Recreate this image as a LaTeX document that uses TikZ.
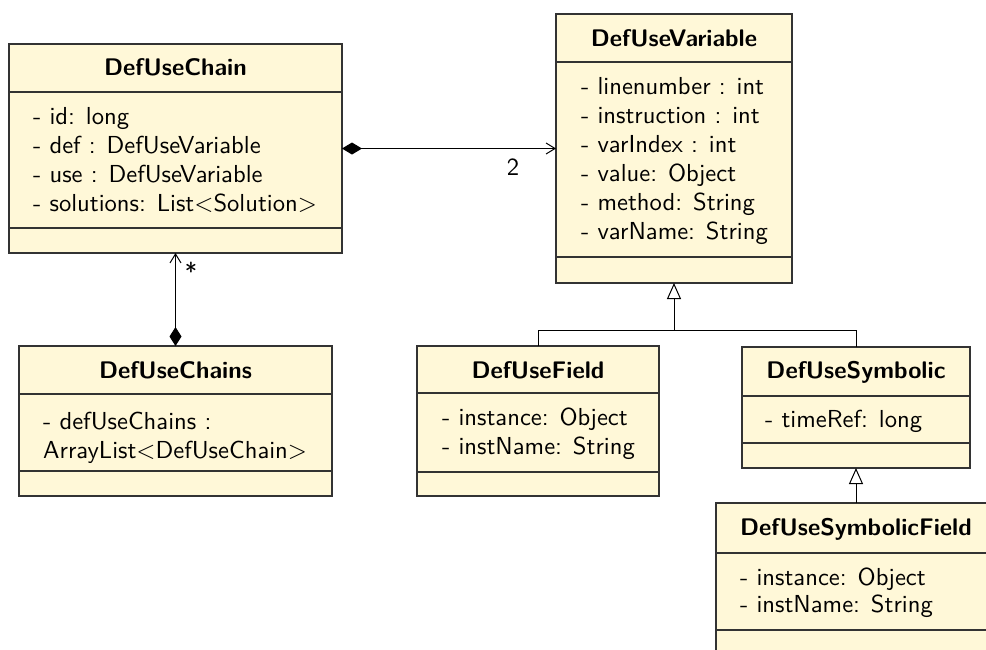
\documentclass[tikz,border=0pt]{standalone}
\usepackage{fontspec}
\newfontfamily\umlfont{lmsans10-regular.otf}[BoldFont=lmsans10-bold.otf]
\usetikzlibrary{arrows.meta,fit}
\definecolor{classfill}{HTML}{FFF8D8}
\definecolor{edge}{HTML}{333333}
\tikzset{
  classbox/.style={draw=edge, fill=classfill, line width=1.2pt, inner sep=0pt, outer sep=0pt},
  divider/.style={draw=edge, line width=1.1pt},
  ctitle/.style={font=\umlfont\bfseries\fontsize{24}{29}\selectfont, inner sep=0pt},
  attr/.style={font=\umlfont\fontsize{24.6}{29}\selectfont, inner sep=0pt, anchor=base west},
  conn/.style={draw=black, line width=1pt},
  mult/.style={font=\umlfont\fontsize{24.6}{29}\selectfont, inner sep=0pt},
}
\begin{document}
\begin{tikzpicture}[x=1pt,y=-1pt]
\useasboundingbox (0,0) rectangle (986,649);
\clip (0,0) rectangle (986,649);
% DefUseChain
\node[classbox, fit={(9,44)(342,253)}] (chain) {};
\draw[divider] (9,92) -- (342,92);
\draw[divider] (9,228) -- (342,228);
\node[ctitle] (chaint) at (175.5,67) {DefUseChain};
\node[attr] (ca1) at (33,124) {- id: long};
\node[attr] (ca2) at (33,153) {- def : DefUseVariable};
\node[attr] (ca3) at (33,182) {- use : DefUseVariable};
\node[attr] (ca4) at (33,211) {- solutions: List<Solution>};
% DefUseVariable
\node[classbox, fit={(556,14)(792,283)}] (var) {};
\draw[divider] (556,62) -- (792,62);
\draw[divider] (556,257) -- (792,257);
\node[ctitle] (vart) at (674,38) {DefUseVariable};
\node[attr] (va1) at (581,94) {- linenumber : int};
\node[attr] (va2) at (581,123) {- instruction : int};
\node[attr] (va3) at (581,152) {- varIndex : int};
\node[attr] (va4) at (581,181) {- value: Object};
\node[attr] (va5) at (581,210) {- method: String};
\node[attr] (va6) at (581,239) {- varName: String};
% DefUseChains
\node[classbox, fit={(19,346)(332,496)}] (chains) {};
\draw[divider] (19,394) -- (332,394);
\draw[divider] (19,471) -- (332,471);
\node[ctitle] (chainst) at (175.5,370) {DefUseChains};
\node[attr] (cs1) at (43,429) {- defUseChains :};
\node[attr] (cs2) at (43,458) {ArrayList<DefUseChain>};
% DefUseField
\node[classbox, fit={(417,346)(659,496)}] (field) {};
\draw[divider] (417,393) -- (659,393);
\draw[divider] (417,472) -- (659,472);
\node[ctitle] (fieldt) at (538,370) {DefUseField};
\node[attr] (fa1) at (442,425) {- instance: Object};
\node[attr] (fa2) at (442,454) {- instName: String};
% DefUseSymbolic
\node[classbox, fit={(742,347)(970,468)}] (sym) {};
\draw[divider] (742,396) -- (970,396);
\draw[divider] (742,443) -- (970,443);
\node[ctitle] (symt) at (856,372) {DefUseSymbolic};
\node[attr] (sa1) at (765,427) {- timeRef: long};
% DefUseSymbolicField
\node[classbox, fit={(716,503)(996,680)}] (symf) {};
\draw[divider] (716,553) -- (996,553);
\draw[divider] (716,630) -- (996,630);
\node[ctitle] (symft) at (856,529) {DefUseSymbolicField};
\node[attr] (sfa1) at (740,585) {- instance: Object};
\node[attr] (sfa2) at (740,612) {- instName: String};
% connectors
\draw[conn, {Diamond[length=20pt,width=12pt,fill=black]}-{Straight Barb[length=9pt,width=11pt]}] (chain.east) -- (var.west);
\node[mult] (m2) at (513,167) {2};
\draw[conn, {Straight Barb[length=9pt,width=11pt]}-{Diamond[length=19pt,width=12pt,fill=black]}] (chain.south) -- (chains.north);
\node[mult] (mstar) at (191,271) {*};
\coordinate (junc) at (674,330);
\draw[conn] (field.north) |- (junc);
\draw[conn] (sym.north) |- (junc);
\draw[conn, -{Triangle[open,length=16pt,width=14pt,fill=white]}] (junc) -- (var.south);
\draw[conn, -{Triangle[open,length=16pt,width=14pt,fill=white]}] (symf.north) -- (sym.south);
\end{tikzpicture}
\end{document}
